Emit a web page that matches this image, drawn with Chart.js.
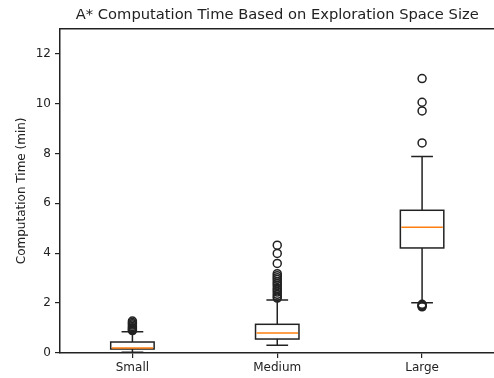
<!DOCTYPE html>
<html>
<head>
<meta charset="utf-8">
<script src="https://cdn.jsdelivr.net/npm/chart.js@4"></script>
<style>
   html, body { margin: 0; padding: 0; background: #fff; overflow: hidden; }
   #wrap { width: 500px; height: 378px; }
</style>
</head>
<body>
<div id="wrap"><canvas id="myChart" width="500" height="378"></canvas></div>
<script>
"use strict";

// box statistics per exploration space size
const categories = ["Small", "Medium", "Large"];
const q1 = [0.16, 0.56, 4.21];
const medians = [0.2, 0.8, 5.04];
const q3 = [0.44, 1.15, 5.72];
const whiskerLow = [0.03, 0.31, 2.01];
const whiskerHigh = [0.85, 2.12, 7.88];
const outliersSmall = [1.28, 1.22, 1.17, 1.12, 1.06, 1.01, 0.97, 0.93, 0.9];
const outliersMedium = [4.32, 3.99, 3.59, 3.18, 3.1, 3.02, 2.95, 2.86, 2.78, 2.7, 2.6, 2.52, 2.44, 2.35, 2.27, 2.2];
const outliersLarge = [11.0, 10.05, 9.7, 8.42, 1.95, 1.91, 1.88, 1.85];
const yTicks = [0, 2, 4, 6, 8, 10, 12];

const outliers = [outliersSmall, outliersMedium, outliersLarge];
const boxWidth = 0.3;
const ink = "#222";
const font = "DejaVu Sans";

const flierPoints = outliers.flatMap((list, i) =>
   list.map((v) => ({ x: i + 1, y: v }))
);

// boxes, whiskers, caps and medians
const boxPlugin = {
   id: "boxes",
   beforeDatasetsDraw(chart) {
      const { ctx, chartArea } = chart;
      const x = chart.scales.x;
      const y = chart.scales.y;
      ctx.save();
      ctx.lineWidth = 1.5;
      ctx.strokeStyle = ink;

      // top spine
      ctx.beginPath();
      ctx.moveTo(chartArea.left, chartArea.top);
      ctx.lineTo(chartArea.right, chartArea.top);
      ctx.stroke();

      categories.forEach((c, i) => {
         const pos = i + 1;
         const xc = x.getPixelForValue(pos);
         const xl = x.getPixelForValue(pos - boxWidth / 2);
         const xr = x.getPixelForValue(pos + boxWidth / 2);
         const capL = x.getPixelForValue(pos - boxWidth / 4);
         const capR = x.getPixelForValue(pos + boxWidth / 4);
         const yq1 = y.getPixelForValue(q1[i]);
         const yq3 = y.getPixelForValue(q3[i]);
         const ylo = y.getPixelForValue(whiskerLow[i]);
         const yhi = y.getPixelForValue(whiskerHigh[i]);
         const ymed = y.getPixelForValue(medians[i]);

         ctx.strokeStyle = ink;
         ctx.beginPath();
         // whiskers
         ctx.moveTo(xc, yq1);
         ctx.lineTo(xc, ylo);
         ctx.moveTo(xc, yq3);
         ctx.lineTo(xc, yhi);
         // caps
         ctx.moveTo(capL, ylo);
         ctx.lineTo(capR, ylo);
         ctx.moveTo(capL, yhi);
         ctx.lineTo(capR, yhi);
         ctx.stroke();

         ctx.strokeRect(xl, yq3, xr - xl, yq1 - yq3);

         ctx.strokeStyle = "#ff7f0e";
         ctx.beginPath();
         ctx.moveTo(xl + 1, ymed);
         ctx.lineTo(xr - 1, ymed);
         ctx.stroke();
      });
      ctx.restore();
   },
};

const ctx = document.getElementById("myChart").getContext("2d");
const myChart = new Chart(ctx, {
   type: "scatter",
   data: {
      datasets: [
         {
            label: "outliers",
            data: flierPoints,
            pointStyle: "circle",
            pointRadius: 4,
            pointBorderWidth: 1.5,
            pointBorderColor: ink,
            pointBackgroundColor: "rgba(0,0,0,0)",
         },
      ],
   },
   options: {
      responsive: false,
      animation: false,
      devicePixelRatio: 1,
      layout: { padding: { left: 0, right: 5, top: 0, bottom: 0 } },
      plugins: {
         legend: { display: false },
         tooltip: { enabled: false },
         title: {
            display: true,
            fullSize: false,
            text: "A* Computation Time Based on Exploration Space Size",
            color: ink,
            font: { family: font, size: 14.7, weight: "normal" },
            padding: { top: 6, bottom: 5 },
         },
      },
      scales: {
         x: {
            type: "linear",
            min: 0.5,
            max: 3.5,
            afterBuildTicks: (axis) => {
               axis.ticks = categories.map((c, i) => ({ value: i + 1 }));
            },
            afterFit: (axis) => {
               axis.height = 25;
            },
            ticks: {
               color: ink,
               padding: 3,
               maxRotation: 0,
               font: { family: font, size: 12 },
               callback: (v) => categories[v - 1],
            },
            grid: {
               drawOnChartArea: false,
               tickLength: 5,
               color: ink,
               lineWidth: 1.2,
            },
            border: { display: true, color: ink, width: 1.5 },
         },
         y: {
            min: 0,
            max: 13,
            afterBuildTicks: (axis) => {
               axis.ticks = yTicks.map((v) => ({ value: v }));
            },
            afterFit: (axis) => {
               axis.width = 60;
            },
            ticks: {
               color: ink,
               padding: 4,
               font: { family: font, size: 12 },
            },
            grid: {
               drawOnChartArea: false,
               tickLength: 5,
               color: ink,
               lineWidth: 1.2,
            },
            border: { display: true, color: ink, width: 1.5 },
            title: {
               display: true,
               text: "Computation Time (min)",
               color: ink,
               font: { family: font, size: 12 },
               padding: { top: 15, bottom: 0 },
            },
         },
      },
   },
   plugins: [boxPlugin],
});
</script>
</body>
</html>
